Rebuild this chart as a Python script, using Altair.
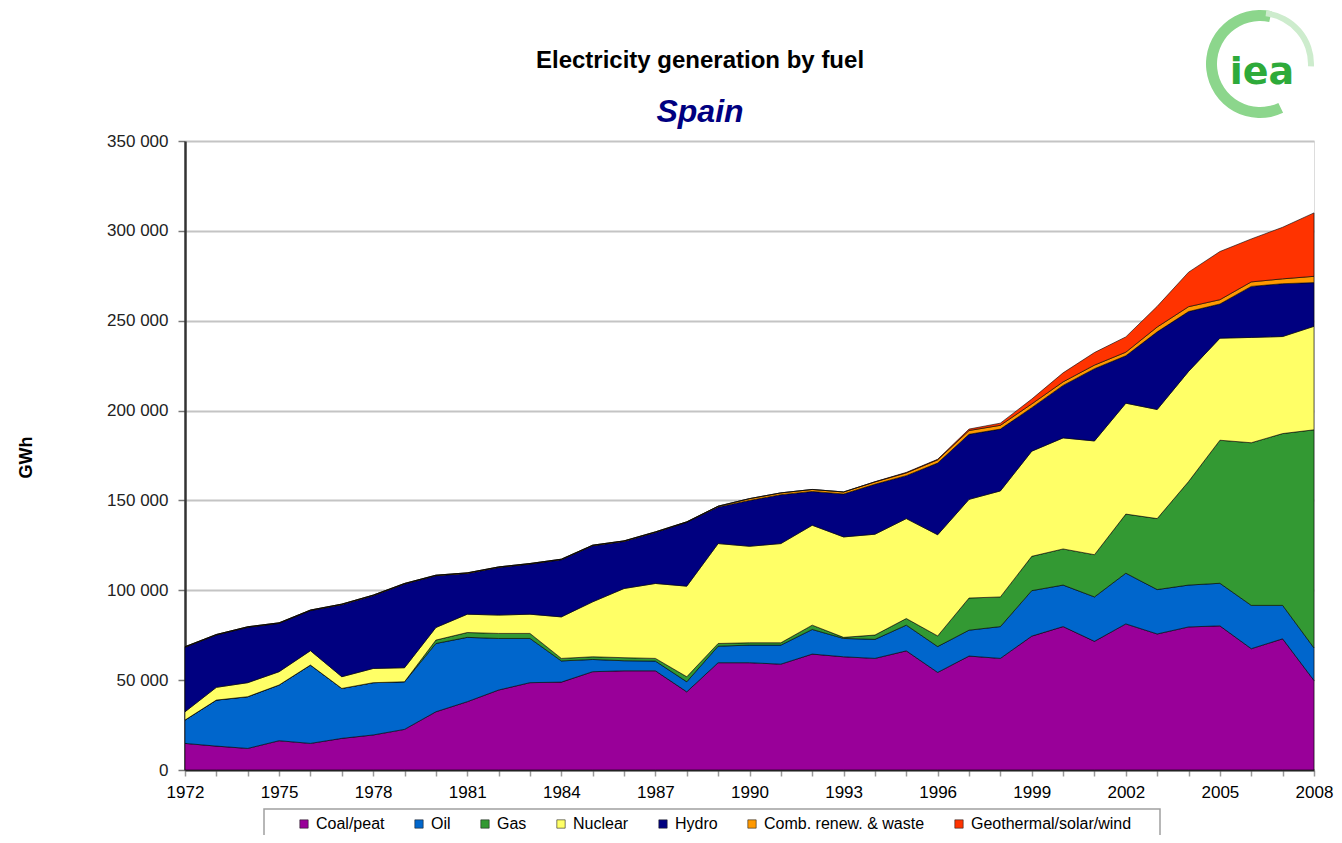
import altair as alt
import pandas as pd

years = list(range(1972, 2009))

fuels = ["Coal/peat", "Oil", "Gas", "Nuclear", "Hydro",
         "Comb. renew. & waste", "Geothermal/solar/wind"]
colors = ["#990099", "#0066CC", "#339933", "#FFFF66", "#000080",
          "#FF9900", "#FF3300"]

coal = [14800, 13300, 12000, 16300, 14800, 17600, 19500, 22600, 32400, 38000,
        44500, 48600, 48900, 54700, 55200, 55200, 43500, 59700, 59700, 58900,
        64500, 63000, 62100, 66300, 54300, 63400, 62100, 74500, 79800, 71600,
        81300, 75700, 79600, 80200, 67500, 73000, 49800]
oil = [13000, 25600, 28800, 31000, 43600, 27800, 29100, 26500, 38000, 35800,
       28700, 24600, 11800, 6800, 5600, 5400, 5600, 9200, 9800, 10600,
       13700, 10200, 10600, 14300, 14400, 14400, 17700, 25300, 23100, 24700,
       28200, 24700, 23300, 23700, 24100, 18600, 18100]
gas = [0, 0, 0, 0, 0, 0, 0, 0, 1900, 2700,
       2800, 2800, 1400, 1500, 1700, 1500, 2800, 1500, 1300, 1300,
       2400, 600, 2400, 3700, 5900, 17900, 16500, 19100, 20100, 23500,
       32900, 39500, 57600, 79600, 90500, 95600, 121400]
nuclear = [4600, 7100, 7800, 7400, 8000, 6500, 7900, 7800, 7000, 10200,
           10200, 10700, 23100, 30600, 38500, 41700, 50400, 55600, 53700, 55200,
           55600, 55900, 56100, 55600, 56300, 54900, 59000, 58500, 61800, 63300,
           61700, 60700, 61300, 56800, 58600, 54000, 57600]
hydro = [35900, 29100, 30800, 26900, 22300, 40100, 40500, 46600, 28800, 22700,
         26500, 27900, 31800, 31200, 26200, 28400, 35500, 20400, 25500, 27200,
         18800, 23900, 27800, 23900, 39900, 36200, 34400, 24200, 29200, 40200,
         26400, 43200, 33300, 19000, 28400, 29400, 24300]
comb = [300, 300, 300, 300, 300, 300, 300, 300, 300, 300,
        300, 300, 300, 300, 300, 300, 300, 400, 1000, 1000,
        1100, 1100, 1300, 1500, 1800, 2100, 2100, 2100, 2000, 2000,
        2000, 2700, 2700, 2400, 2500, 2700, 3500]
geo = [0, 0, 0, 0, 0, 0, 0, 0, 0, 0,
       0, 0, 0, 0, 0, 0, 0, 0, 0, 0,
       0, 0, 100, 300, 300, 800, 1200, 2700, 5000, 7000,
       8500, 11500, 19200, 26800, 23900, 28700, 35300]

y_ticks = [0, 50000, 100000, 150000, 200000, 250000, 300000, 350000]

series = [coal, oil, gas, nuclear, hydro, comb, geo]
rows = []
for idx, (name, vals) in enumerate(zip(fuels, series)):
    for yr, v in zip(years, vals):
        rows.append({"year": yr, "fuel": name, "value": v, "idx": idx})
df = pd.DataFrame(rows)

FONT = "Liberation Sans"

areas = alt.Chart(df).mark_area(stroke="#000000", strokeWidth=0.6, opacity=1).encode(
    x=alt.X("year:Q",
            scale=alt.Scale(domain=[1972, 2008], nice=False, zero=False),
            axis=alt.Axis(title=None, values=years,
                          labelExpr="(datum.value - 1972) % 3 == 0 ? datum.value : ''",
                          labelFont=FONT, labelFontSize=17, labelColor="#000",
                          labelPadding=8, labelOverlap=False, labelFlush=False,
                          tickSize=6, tickColor="#999", tickWidth=1.5,
                          domainColor="#333", domainWidth=2, grid=False)),
    y=alt.Y("value:Q", stack="zero",
            scale=alt.Scale(domain=[0, 350000], nice=False),
            axis=alt.Axis(title="GWh", values=y_ticks,
                          labelExpr="replace(format(datum.value, ',d'), ',', ' ')",
                          labelFont=FONT, labelFontSize=17, labelColor="#222",
                          labelPadding=10, tickSize=7, tickColor="#777",
                          tickWidth=1.5,
                          domainColor="#333", domainWidth=2.5,
                          gridColor="#c4c4c4", gridWidth=2,
                          titleFont=FONT, titleFontSize=18,
                          titleFontWeight="bold", titleColor="#000",
                          titleAngle=270, titleX=-159, titleY=316,
                          titleAlign="center", titleBaseline="middle")),
    color=alt.Color("fuel:N",
                    scale=alt.Scale(domain=fuels, range=colors),
                    legend=alt.Legend(title=None, orient="none",
                                      legendX=111, legendY=675,
                                      direction="horizontal", columns=7,
                                      symbolType="square", symbolSize=70,
                                      symbolStrokeColor="#222",
                                      symbolStrokeWidth=0.6,
                                      labelFont=FONT, labelFontSize=16,
                                      labelColor="#000", labelLimit=400,
                                      labelOffset=4, columnPadding=26,
                                      padding=0)),
    order=alt.Order("idx:Q", sort="ascending"),
)

one = alt.Data(values=[{"k": 0}])

legend_box = alt.Chart(one).mark_rect(fill="white", stroke="#a0a0a0",
                                      strokeWidth=1.5).encode(
    x=alt.value(79), x2=alt.value(975), y=alt.value(668), y2=alt.value(730))

title1 = alt.Chart(one).mark_text(
    text="Electricity generation by fuel", font=FONT, fontSize=24,
    fontWeight="bold", color="#000", align="center", baseline="middle"
).encode(x=alt.value(515), y=alt.value(-80))

title2 = alt.Chart(one).mark_text(
    text="Spain", font=FONT, fontSize=32, fontWeight="bold",
    fontStyle="italic", color="#000080", align="center", baseline="middle"
).encode(x=alt.value(515), y=alt.value(-29))

ring1 = alt.Chart(one).mark_arc(radius=54, radius2=43, theta=2.7, theta2=6.5,
                                color="#8cd68c").encode(
    x=alt.value(1075), y=alt.value(-77))
ring2 = alt.Chart(one).mark_arc(radius=54, radius2=48, theta=6.4, theta2=7.9,
                                color="#cdeccd").encode(
    x=alt.value(1075), y=alt.value(-77))
logo = alt.Chart(one).mark_text(
    text="iea", font="DejaVu Sans", fontSize=38, fontWeight="bold",
    color="#2eaa3a", align="center", baseline="middle"
).encode(x=alt.value(1077), y=alt.value(-68))

chart = alt.layer(legend_box, areas, title1, title2, ring1, ring2, logo).properties(
    width=1129, height=629,
    padding={"left": 177, "top": 133, "right": 20, "bottom": 65},
    autosize=alt.AutoSizeParams(type="none"),
).configure_view(stroke="#c8c8c8", strokeWidth=2).configure(background="white")

chart.save("out.html", embed_options={"renderer": "svg", "actions": False})
